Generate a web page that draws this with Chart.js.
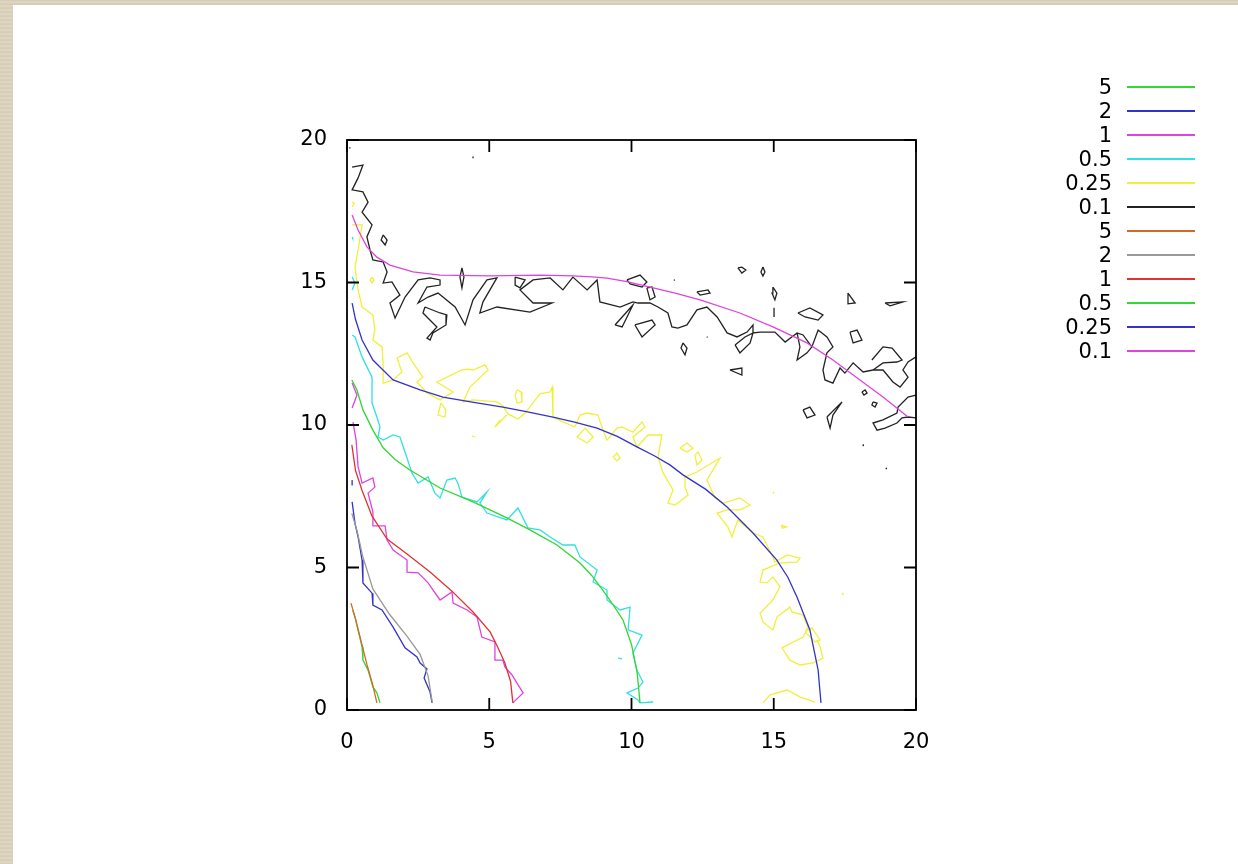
<!DOCTYPE html>
<html>
<head>
<meta charset="utf-8">
<script src="https://cdn.jsdelivr.net/npm/chart.js@4.4.1/dist/chart.umd.min.js"></script>
<style>
  html, body { margin: 0; padding: 0; }
  body {
    width: 1238px; height: 864px; overflow: hidden; position: relative;
    background: repeating-linear-gradient(0deg, #d6ccb4 0px, #e1d9c6 2px, #d3c9b1 4px);
  }
  #paper { position: absolute; left: 13px; top: 5px; right: 0; bottom: 0; background: #fff; }
  #chart { position: absolute; left: 0; top: 0; }
  #legend { position: absolute; left: 1040px; top: 75px; font-family: "DejaVu Sans", sans-serif; font-size: 21px; color: #000; }
  .row { display: flex; align-items: center; height: 24px; line-height: 24px; }
  .row .lab { width: 72px; text-align: right; }
  .row .swatch { width: 68px; margin-left: 15px; height: 2px; }
</style>
</head>
<body>
<div id="paper"></div>
<canvas id="chart" width="1238" height="864"></canvas>
<div id="legend"></div>
<script>
// axis ticks
const xTicks = [0, 5, 10, 15, 20];
const yTicks = [0, 5, 10, 15, 20];

// contour levels (same for both sets)
const levels = ['5', '2', '1', '0.5', '0.25', '0.1'];
const noisyColors = ['#33d633', '#3333cc', '#dd44dd', '#33e0e0', '#f0f03a', '#222222'];
const smoothColors = ['#d2692a', '#999999', '#dd3333', '#33d633', '#3333cc', '#dd44dd'];

// noisy contours, each list of pieces of [x, y]
const noisy5 = [
  [[0.2,3.5],[0.28,3.26],[0.53,2.21],[0.56,1.75],[0.74,1.4],[0.91,0.81],[1.05,0.6],[1.16,0.25]]
];
const noisy2 = [
  [[0.18,8.07],[0.18,7.88]],
  [[0.18,7.3],[0.28,6.56],[0.39,6.07],[0.53,5.26],[0.56,4.46],[0.88,4.1],[0.91,3.68],[1.23,3.51],[1.62,2.91],[2.04,2.18],[2.46,1.86],[2.57,1.65],[2.81,1.44],[2.71,1.12],[2.92,0.63],[2.99,0.25]]
];
const noisy1 = [
  [[0.18,11.47],[0.35,11.05],[0.18,10.6]],
  [[0.21,10.1],[0.32,9.47],[0.39,8.53],[0.53,7.96],[0.91,8.14],[0.98,7.82],[0.74,7.61],[0.91,6.95],[0.91,6.46],[1.34,6.46],[1.41,5.96],[1.62,5.61],[2.11,5.26],[2.11,4.84],[2.5,4.81],[2.85,4.46],[3.27,3.86],[3.69,4.14],[3.73,3.75],[4.22,3.51],[4.57,3.26],[4.74,2.56],[5.2,2.39],[5.2,1.75],[5.48,1.75],[5.55,1.51],[5.8,1.23],[5.97,0.95],[6.19,0.6],[5.83,0.25]]
];
const noisy05 = [
  [[0.18,16.6],[0.2,16.55]],
  [[0.18,15.19],[0.28,14.98],[0.18,14.74]],
  [[0.18,13.16],[0.28,13.09],[0.53,12.39],[0.63,12.18],[0.88,11.68],[0.88,11.23],[0.88,10.77],[1.05,10.28],[1.16,9.93],[1.09,9.58],[1.27,9.47],[1.62,9.65],[1.86,9.58],[2.11,8.84],[2.28,8.32],[2.5,7.96],[2.85,8.18],[3.09,7.61],[3.27,7.44],[3.51,8.07],[3.8,8.14],[3.9,7.96],[4.04,7.47],[4.57,7.3],[4.92,7.65],[4.67,7.26],[4.92,6.91],[5.62,6.67],[6.01,7.09],[6.36,6.39],[6.78,6.32],[7.14,6.07],[7.59,5.79],[8.01,5.79],[8.19,5.37],[8.79,4.91],[8.65,4.49],[9.14,4.21],[9.14,3.86],[9.6,3.51],[9.95,3.61],[9.88,2.81],[10.37,2.63],[10.05,2.0],[10.19,1.4],[10.4,0.98],[10.23,0.77],[9.84,0.6],[10.23,0.35],[10.3,0.25],[10.76,0.28]],
  [[9.53,1.82],[9.67,1.79]]
];
const noisy025 = [
  [[0.18,17.82],[0.25,17.79],[0.18,17.65]],
  [[0.88,15.19],[0.95,15.09],[0.88,14.98],[0.81,15.09],[0.88,15.19]],
  [[0.18,17.02],[0.53,17.02],[0.39,16.14],[0.28,15.54],[0.39,14.74],[0.53,14.14],[0.91,13.86],[0.98,13.33],[0.91,12.98],[1.23,12.74],[1.27,12.18],[1.27,11.47],[1.62,11.58],[1.93,11.86],[1.76,12.35],[2.11,12.53],[2.32,12.18],[2.67,11.68],[2.46,11.51],[2.81,11.12],[3.27,10.88],[3.73,11.16],[3.16,11.51],[4.04,11.93],[4.25,11.96],[4.43,11.93],[4.85,12.11],[4.96,11.93],[4.32,11.33],[4.08,10.81],[4.43,10.88],[5.27,10.81],[5.48,10.67],[5.66,10.39],[6.01,10.21],[6.26,10.42],[6.78,11.09],[7.14,11.16],[7.21,11.33],[7.24,11.05],[7.24,10.28],[7.59,10.11],[8.01,9.93],[8.19,10.35],[8.44,10.42],[8.82,10.35],[9.0,9.82],[9.14,9.47],[9.49,9.89],[9.67,9.93],[10.05,9.75],[10.37,10.11],[10.47,9.93],[10.05,9.58],[10.19,9.23],[10.58,9.65],[11.07,9.65],[10.93,8.88],[11.11,8.32],[11.46,7.72],[11.28,7.26],[11.53,7.19],[11.99,7.54],[11.88,7.82],[11.88,8.18],[12.3,8.35],[13.11,8.84],[12.65,8.07],[12.94,7.44],[13.22,7.26],[13.81,7.44],[14.17,7.19],[13.81,7.02],[13.36,7.02],[13.01,6.91],[13.39,6.42],[13.53,6.07],[13.74,6.67],[14.27,6.21],[14.62,6.07],[14.97,5.37],[15.04,5.19],[15.47,5.44],[15.92,5.33],[15.82,5.19],[15.22,5.16],[14.62,4.91],[14.52,4.49],[14.76,4.46],[14.97,4.67],[15.22,4.32],[14.97,3.86],[14.52,3.4],[14.62,3.09],[14.97,2.81],[15.11,3.26],[15.57,3.61],[15.64,3.44],[16.03,3.33],[16.2,2.91],[16.03,2.56],[15.29,2.18],[15.57,1.75],[15.92,1.58],[16.38,1.65],[16.73,1.82],[16.63,2.21],[16.52,2.46]],
  [[14.62,0.25],[14.87,0.53],[15.47,0.7],[15.92,0.46],[16.45,0.28]],
  [[16.1,2.74],[16.34,2.88],[16.63,2.46],[16.45,2.39],[16.1,2.74]],
  [[3.3,10.77],[3.48,10.53],[3.44,10.28],[3.2,10.35],[3.3,10.77]],
  [[5.98,11.23],[6.12,11.16],[6.15,10.81],[5.98,10.77],[5.91,11.05],[5.98,11.23]],
  [[5.62,10.35],[5.2,9.93],[5.38,10.18]],
  [[4.39,9.61],[4.5,9.58]],
  [[8.08,9.58],[8.37,9.89],[8.65,9.58],[8.44,9.37],[8.08,9.58]],
  [[9.35,8.88],[9.49,9.02],[9.6,8.84],[9.49,8.74],[9.35,8.88]],
  [[11.7,9.19],[11.95,9.37],[12.16,9.19],[11.95,9.05],[11.7,9.19]],
  [[12.23,8.95],[12.34,9.05],[12.48,8.77],[12.3,8.6],[12.23,8.95]],
  [[14.97,7.65],[15.01,7.6]],
  [[15.27,6.49],[15.45,6.42],[15.31,6.38],[15.27,6.49]],
  [[17.4,4.11],[17.43,4.07]]
];
const noisy01 = [
  [[0.18,19.05],[0.56,19.12],[0.39,18.67],[0.18,18.25],[0.56,18.18],[0.74,17.82],[0.53,17.47],[0.88,17.02],[0.7,16.6],[0.81,16.14],[0.91,15.79],[1.27,15.72],[1.41,15.37],[1.27,14.98],[1.58,15.02],[1.86,14.56],[1.51,14.28],[1.69,13.75],[2.04,14.49],[2.5,15.09],[2.92,15.16],[3.27,15.09],[3.27,14.91],[2.81,14.84],[2.5,14.28],[2.85,14.49],[3.2,14.63],[3.8,14.14],[4.15,13.51],[4.43,14.39],[4.92,15.09],[5.27,15.16],[4.78,14.32],[4.67,13.93],[5.27,14.14],[6.43,13.96],[7.21,14.28],[6.54,14.28],[6.08,14.74],[6.54,15.09],[7.14,15.16],[7.59,14.74],[7.94,15.19],[8.44,14.74],[8.79,15.09],[8.89,14.32],[9.6,14.14],[10.05,14.32],[10.23,14.28],[10.65,14.28],[10.93,14.14],[11.28,13.93],[11.42,13.44],[11.63,13.4],[11.95,13.51],[12.3,14.04],[12.65,14.14],[13.01,13.79],[13.36,13.23],[13.71,13.09],[14.06,13.26],[14.27,13.51],[14.27,13.23],[14.52,13.26],[15.04,13.26],[15.4,12.91],[15.82,13.23],[16.03,13.16],[16.34,12.74],[16.56,13.33],[16.87,13.09],[17.08,12.74],[16.87,12.53],[16.73,11.93],[16.8,11.58],[17.08,11.47],[17.33,12.0],[17.5,11.82],[17.79,12.18],[18.14,11.86],[18.49,11.93],[18.84,11.93],[19.19,11.51],[19.44,11.33],[19.72,11.68],[19.54,11.93],[19.72,12.21],[20,12.39]],
  [[2.74,14.14],[3.27,13.93],[3.51,13.86],[3.48,13.51],[3.02,13.23],[2.92,12.98],[2.81,13.05],[3.16,13.44],[2.67,13.93],[2.74,14.14]],
  [[5.91,15.19],[6.26,15.09],[6.08,14.81],[5.91,14.91],[5.91,15.19]],
  [[4.04,15.51],[4.11,15.19],[4.04,14.81],[3.97,15.19],[4.04,15.51]],
  [[1.27,16.67],[1.41,16.49],[1.34,16.32],[1.2,16.49],[1.27,16.67]],
  [[4.43,19.42],[4.43,19.36]],
  [[0.1,19.75],[0.1,19.7]],
  [[9.84,15.09],[10.3,15.26],[10.54,15.02],[10.37,14.84],[9.95,14.95],[9.84,15.09]],
  [[10.54,14.81],[10.72,14.84],[10.83,14.49],[10.65,14.39],[10.54,14.81]],
  [[11.49,15.1],[11.52,15.07]],
  [[12.3,14.67],[12.69,14.74],[12.76,14.63],[12.41,14.56],[12.3,14.67]],
  [[13.74,15.51],[13.88,15.54],[14.02,15.44],[13.88,15.33],[13.74,15.51]],
  [[14.62,15.54],[14.69,15.37],[14.62,15.23],[14.55,15.37],[14.62,15.54]],
  [[14.97,14.84],[15.11,14.63],[15.04,14.39],[14.94,14.63],[14.97,14.84]],
  [[15.01,14.11],[15.01,13.79]],
  [[15.85,13.93],[16.27,14.11],[16.73,13.86],[16.56,13.68],[16.1,13.79],[15.85,13.93]],
  [[17.61,14.63],[17.86,14.28],[17.61,14.25],[17.61,14.63]],
  [[18.91,14.28],[19.54,14.32],[19.09,14.18],[18.91,14.28]],
  [[17.68,13.26],[17.93,13.33],[18.1,12.98],[17.79,12.88],[17.68,13.26]],
  [[9.42,13.51],[10.05,14.21],[9.67,13.44],[9.42,13.51]],
  [[10.12,13.51],[10.72,13.68],[10.83,13.51],[10.37,13.09],[10.12,13.51]],
  [[11.81,12.88],[11.95,12.7],[11.88,12.46],[11.74,12.7],[11.81,12.88]],
  [[12.65,13.1],[12.67,13.07]],
  [[13.46,11.93],[13.88,12.0],[13.88,11.75],[13.46,11.93]],
  [[13.64,12.81],[13.81,12.53],[14.17,12.88],[14.27,13.23],[13.99,13.09],[13.64,12.81]],
  [[16.34,12.74],[16.17,12.53],[15.82,12.28],[15.92,12.74],[15.82,13.23]],
  [[16.03,10.53],[16.27,10.63],[16.45,10.35],[16.17,10.25],[16.03,10.53]],
  [[16.87,10.28],[17.4,10.81],[17.08,10.35],[16.98,9.89],[16.87,10.28]],
  [[18.1,11.16],[18.21,11.23],[18.28,11.12],[18.17,11.05],[18.1,11.16]],
  [[18.49,10.81],[18.63,10.77],[18.56,10.63],[18.45,10.7],[18.49,10.81]],
  [[18.45,12.28],[18.84,12.74],[19.16,12.7],[19.51,12.28],[19.33,12.21],[18.84,12.18],[18.49,11.93]],
  [[20,11.05],[19.72,10.98],[19.37,10.63],[19.33,10.42],[18.84,10.18],[18.49,10.07],[18.63,9.82],[18.91,9.89],[19.33,10.07],[19.51,10.25],[19.72,10.28],[20,10.25]],
  [[18.14,9.32],[18.15,9.26]],
  [[18.95,8.5],[18.96,8.45]]
];

// smooth contours
const smooth5 = [[[0.14,3.75],[0.3,3.2],[0.5,2.4],[0.7,1.6],[0.9,0.9],[1.05,0.25]]];
const smooth2 = [[[0.17,6.9],[0.35,6.3],[0.55,5.4],[0.91,4.25],[1.5,3.35],[2.1,2.6],[2.57,1.95],[2.85,1.2],[3.0,0.25]]];
const smooth1 = [[[0.17,9.3],[0.3,8.4],[0.53,7.7],[0.88,6.8],[1.41,6.0],[2.11,5.47],[2.92,4.84],[3.69,4.17],[4.43,3.44],[5.03,2.74],[5.3,2.2],[5.55,1.65],[5.75,1.0],[5.83,0.25]]];
const smooth05 = [[[0.17,11.58],[0.35,11.23],[0.56,10.53],[0.91,9.82],[1.27,9.2],[1.7,8.78],[2.21,8.42],[3.27,7.79],[4.43,7.3],[5.62,6.74],[6.43,6.32],[7.38,5.79],[8.19,5.16],[8.6,4.72],[8.99,4.21],[9.35,3.7],[9.7,3.16],[10.0,2.3],[10.2,1.3],[10.3,0.25]]];
const smooth025 = [[[0.18,14.28],[0.3,13.7],[0.53,12.98],[0.91,12.28],[1.62,11.58],[2.57,11.23],[3.37,10.98],[4.4,10.8],[5.48,10.63],[6.3,10.47],[7.24,10.28],[8.0,10.1],[8.79,9.89],[9.5,9.6],[10.19,9.23],[10.8,8.92],[11.35,8.6],[11.81,8.25],[12.6,7.75],[13.36,7.12],[14.27,6.21],[15.11,5.26],[15.5,4.65],[15.82,3.96],[16.27,2.81],[16.56,1.4],[16.66,0.25]]];
const smooth01 = [[[0.18,17.37],[0.39,16.84],[0.7,16.25],[1.05,15.89],[1.51,15.61],[2.32,15.37],[3.27,15.26],[5.03,15.23],[6.78,15.26],[7.94,15.23],[8.6,15.2],[9.14,15.15],[9.84,15.03],[10.65,14.84],[11.5,14.64],[12.41,14.39],[13.81,13.93],[14.97,13.44],[16.17,12.88],[17.08,12.28],[18.03,11.58],[18.84,10.98],[19.72,10.28]]];

const noisySeries = [noisy5, noisy2, noisy1, noisy05, noisy025, noisy01];
const smoothSeries = [smooth5, smooth2, smooth1, smooth05, smooth025, smooth01];

// pieces -> one point list, broken with y:null
function toPoints(pieces) {
  const out = [];
  pieces.forEach((piece, i) => {
    if (i > 0) out.push({ x: piece[0][0], y: null });
    piece.forEach(p => out.push({ x: p[0], y: p[1] }));
  });
  return out;
}

const datasets = [];
noisySeries.forEach((s, i) => datasets.push({
  label: levels[i], data: toPoints(s), borderColor: noisyColors[i], order: 1
}));
smoothSeries.forEach((s, i) => datasets.push({
  label: levels[i], data: toPoints(s), borderColor: smoothColors[i], order: 0
}));
datasets.forEach(d => {
  d.showLine = true; d.spanGaps = false; d.borderWidth = 1.3;
  d.pointRadius = 0; d.fill = false; d.tension = 0;
});

// legend on the right
const legendEl = document.getElementById('legend');
datasets.forEach(d => {
  const row = document.createElement('div');
  row.className = 'row';
  const lab = document.createElement('div');
  lab.className = 'lab';
  lab.textContent = d.label;
  const sw = document.createElement('div');
  sw.className = 'swatch';
  sw.style.background = d.borderColor;
  row.appendChild(lab);
  row.appendChild(sw);
  legendEl.appendChild(row);
});

// frame with inward ticks on all four sides
const framePlugin = {
  id: 'frame',
  afterDraw(chart) {
    const { ctx, chartArea: a, scales } = chart;
    const len = 12;
    ctx.save();
    ctx.strokeStyle = '#000';
    ctx.lineWidth = 1.8;
    ctx.strokeRect(a.left, a.top, a.right - a.left, a.bottom - a.top);
    ctx.beginPath();
    xTicks.forEach(v => {
      const px = scales.x.getPixelForValue(v);
      ctx.moveTo(px, a.bottom); ctx.lineTo(px, a.bottom - len);
      ctx.moveTo(px, a.top); ctx.lineTo(px, a.top + len);
    });
    yTicks.forEach(v => {
      const py = scales.y.getPixelForValue(v);
      ctx.moveTo(a.left, py); ctx.lineTo(a.left + len, py);
      ctx.moveTo(a.right, py); ctx.lineTo(a.right - len, py);
    });
    ctx.stroke();
    ctx.restore();
  }
};

const tickFont = { family: 'DejaVu Sans', size: 21 };

new Chart(document.getElementById('chart'), {
  type: 'scatter',
  data: { datasets },
  options: {
    responsive: false,
    animation: false,
    events: [],
    layout: { padding: { top: 140, right: 322, left: 0, bottom: 0 } },
    plugins: { legend: { display: false }, tooltip: { enabled: false } },
    scales: {
      x: {
        type: 'linear', min: xTicks[0], max: xTicks[xTicks.length - 1],
        afterBuildTicks: s => { s.ticks = xTicks.map(v => ({ value: v })); },
        ticks: { color: '#000', font: tickFont, padding: 20, maxRotation: 0 },
        grid: { display: false, drawTicks: false },
        border: { display: false },
        afterFit: s => { s.height = 154; }
      },
      y: {
        type: 'linear', min: yTicks[0], max: yTicks[yTicks.length - 1],
        afterBuildTicks: s => { s.ticks = yTicks.map(v => ({ value: v })); },
        ticks: { color: '#000', font: tickFont, padding: 20 },
        grid: { display: false, drawTicks: false },
        border: { display: false },
        afterFit: s => { s.width = 347; }
      }
    }
  },
  plugins: [framePlugin]
});
</script>
</body>
</html>
